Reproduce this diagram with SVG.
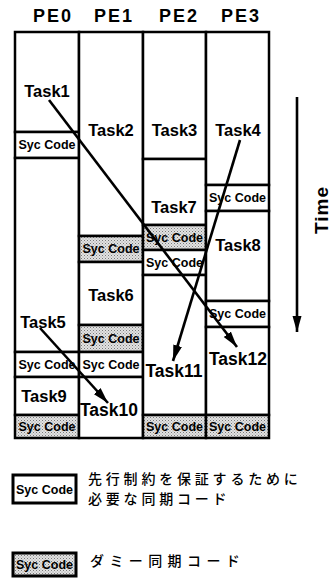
<svg xmlns="http://www.w3.org/2000/svg" width="332" height="578" viewBox="0 0 332 578">
<style>
  .cell { fill:#fff; stroke:#000; stroke-width:2.5; }
  .dummy { fill:url(#dots); stroke:#000; stroke-width:2.5; }
  .task { font-family:"Liberation Sans", Arial, sans-serif; font-weight:bold; font-size:16.5px; fill:#000; text-anchor:middle; }
  .sync { font-family:"Liberation Sans", Arial, sans-serif; font-weight:bold; font-size:12.5px; fill:#000; text-anchor:middle; }
  .head { font-family:"Liberation Sans", Arial, sans-serif; font-weight:bold; font-size:18px; letter-spacing:2px; fill:#000; text-anchor:middle; }
  .jp { font-family:"Noto Sans CJK JP", sans-serif; font-weight:500; font-size:14px; fill:#000; }
  .conn { stroke:#000; stroke-width:2.6; fill:none; }
</style>
<defs>
  <pattern id="dots" width="3" height="3" patternUnits="userSpaceOnUse">
    <rect width="3" height="3" fill="#e2e2e2"/>
    <rect x="0" y="0" width="1" height="1" fill="#7a7a7a"/>
    <rect x="1.5" y="1.5" width="1" height="1" fill="#9a9a9a"/>
  </pattern>
  <marker id="arr" markerUnits="userSpaceOnUse" markerWidth="17" markerHeight="10" refX="16" refY="4.5" orient="auto">
    <path d="M0,0 L16,4.5 L0,9 z" fill="#000"/>
  </marker>
</defs>
<rect width="332" height="578" fill="#fff"/>

<g id="headers">
  <text class="head" x="53" y="22">PE0</text>
  <text class="head" x="114" y="22">PE1</text>
  <text class="head" x="179" y="22">PE2</text>
  <text class="head" x="241" y="22">PE3</text>
</g>

<!-- PE0 -->
<g id="task1"><rect class="cell" x="15" y="32" width="64" height="100"/><text class="task" x="47" y="97">Task1</text></g>
<g id="pe0-sync1"><rect class="cell" x="15" y="132" width="64" height="26"/><text class="sync" x="47" y="149">Syc Code</text></g>
<g id="task5"><rect class="cell" x="15" y="158" width="64" height="194"/><text class="task" x="43" y="328">Task5</text></g>
<g id="pe0-sync2"><rect class="cell" x="15" y="352" width="64" height="25"/><text class="sync" x="47" y="369">Syc Code</text></g>
<g id="task9"><rect class="cell" x="15" y="377" width="64" height="38"/><text class="task" x="44" y="402">Task9</text></g>
<g id="pe0-sync3"><rect class="dummy" x="15" y="415" width="64" height="23"/><text class="sync" x="47" y="431">Syc Code</text></g>

<!-- PE1 -->
<g id="task2"><rect class="cell" x="79" y="32" width="64" height="204"/><text class="task" x="111" y="136">Task2</text></g>
<g id="pe1-sync1"><rect class="dummy" x="79" y="236" width="64" height="26"/><text class="sync" x="111" y="253">Syc Code</text></g>
<g id="task6"><rect class="cell" x="79" y="262" width="64" height="63"/><text class="task" x="111" y="301">Task6</text></g>
<g id="pe1-sync2"><rect class="dummy" x="79" y="325" width="64" height="27"/><text class="sync" x="111" y="343">Syc Code</text></g>
<g id="pe1-sync3"><rect class="cell" x="79" y="352" width="64" height="25"/><text class="sync" x="111" y="369">Syc Code</text></g>
<g id="task10"><rect class="cell" x="79" y="377" width="64" height="61"/><text class="task" x="109" y="416" style="font-size:17.5px">Task10</text></g>

<!-- PE2 -->
<g id="task3"><rect class="cell" x="143" y="32" width="63" height="127"/><text class="task" x="174.5" y="136">Task3</text></g>
<g id="task7"><rect class="cell" x="143" y="159" width="63" height="66"/><text class="task" x="174" y="213">Task7</text></g>
<g id="pe2-sync1"><rect class="dummy" x="143" y="225" width="63" height="25"/><text class="sync" x="174.5" y="242">Syc Code</text></g>
<g id="pe2-sync2"><rect class="cell" x="143" y="250" width="63" height="25"/><text class="sync" x="174.5" y="267">Syc Code</text></g>
<g id="task11"><rect class="cell" x="143" y="275" width="63" height="140"/><text class="task" x="174" y="377" style="font-size:17.5px">Task11</text></g>
<g id="pe2-sync3"><rect class="dummy" x="143" y="415" width="63" height="23"/><text class="sync" x="174.5" y="431">Syc Code</text></g>

<!-- PE3 -->
<g id="task4"><rect class="cell" x="206" y="32" width="63" height="153"/><text class="task" x="238" y="136">Task4</text></g>
<g id="pe3-sync1"><rect class="cell" x="206" y="185" width="63" height="26"/><text class="sync" x="237.5" y="202">Syc Code</text></g>
<g id="task8"><rect class="cell" x="206" y="211" width="63" height="90"/><text class="task" x="238" y="251">Task8</text></g>
<g id="pe3-sync2"><rect class="cell" x="206" y="301" width="63" height="26"/><text class="sync" x="237.5" y="318">Syc Code</text></g>
<g id="task12"><rect class="cell" x="206" y="327" width="63" height="88"/><text class="task" x="238" y="365" style="font-size:17.5px">Task12</text></g>
<g id="pe3-sync3"><rect class="dummy" x="206" y="415" width="63" height="23"/><text class="sync" x="237.5" y="431">Syc Code</text></g>

<g id="connectors">
  <line class="conn" x1="49" y1="100" x2="237" y2="347" marker-end="url(#arr)"/>
  <line class="conn" x1="240" y1="140" x2="173" y2="361" marker-end="url(#arr)"/>
  <line class="conn" x1="40" y1="328" x2="108" y2="403" marker-end="url(#arr)"/>
</g>

<g id="time-axis">
  <line class="conn" x1="297" y1="97" x2="297" y2="332" marker-end="url(#arr)"/>
  <text transform="translate(328,210) rotate(-90)" style="font-family:'Liberation Sans', Arial, sans-serif; font-weight:bold; font-size:19px; letter-spacing:1px; text-anchor:middle">Time</text>
</g>

<g id="legend-sync">
  <rect x="13" y="475" width="63" height="28" fill="#fff" stroke="#000" stroke-width="3"/>
  <text class="sync" x="44.5" y="494">Syc Code</text>
  <text class="jp" x="88" y="484" style="letter-spacing:3.8px">先行制約を保証するために</text>
  <text class="jp" x="88" y="504" style="letter-spacing:3.8px">必要な同期コード</text>
</g>

<g id="legend-dummy">
  <rect x="13" y="553" width="63" height="23" fill="url(#dots)" stroke="#000" stroke-width="3"/>
  <text class="sync" x="44.5" y="569">Syc Code</text>
  <text class="jp" x="90" y="566" style="letter-spacing:5.4px">ダミー同期コード</text>
</g>
</svg>
